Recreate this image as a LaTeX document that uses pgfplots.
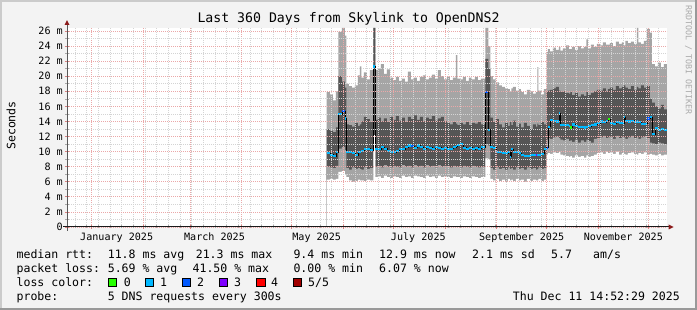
\documentclass[border=0pt]{standalone}
\usepackage{pgfplots}
\pgfplotsset{compat=1.18}
\usepackage{pgfplotstable}
\usepackage{fontspec}
\setmainfont{DejaVu Sans Mono}
\newcommand\lfont{\fontsize{11.55bp}{13bp}\selectfont}
\newcommand\afont{\fontsize{10.1bp}{12bp}\selectfont}
\newcommand\tfont{\fontsize{13.2bp}{15bp}\selectfont}
\newcommand\wfont{\fontsize{8.3bp}{10bp}\selectfont}
\definecolor{bg}{HTML}{F3F3F3}
\definecolor{shadeA}{HTML}{CBCBCB}
\definecolor{shadeB}{HTML}{999999}
\definecolor{mgrid}{HTML}{EBA8A8}
\definecolor{mgridt}{HTML}{D88080}
\definecolor{sgrid}{HTML}{D4D4D4}
\definecolor{lgray}{HTML}{A5A5A5}
\definecolor{dgray}{HTML}{555555}
\definecolor{l0}{HTML}{26FF00}
\definecolor{l1}{HTML}{00B8FF}
\definecolor{l2}{HTML}{0059FF}
\definecolor{l3}{HTML}{7E00FF}
\definecolor{l4}{HTML}{FF0000}
\definecolor{l5}{HTML}{A10000}
\definecolor{arrowc}{HTML}{8B1A1A}
\definecolor{wm}{HTML}{AAAAAA}

\pgfplotstableread{
x U1 U2 M L2 L1
141.00 17.9 13.0 9.8 8.0 6.3
142.98 17.6 12.8 9.6 7.9 6.4
144.78 16.8 12.6 9.4 7.8 6.3
146.58 18.0 13.2 9.9 8.1 6.4
148.08 25.9 20.0 15.0 10.4 7.3
150.18 26.4 19.3 15.4 10.6 7.4
151.98 25.4 18.5 14.4 10.2 7.0
152.88 19.0 13.6 10.0 7.8 6.6
154.38 18.7 13.5 9.9 7.6 6.2
156.18 18.5 13.3 9.8 7.9 6.0
157.98 18.8 13.8 9.5 7.7 6.1
159.78 20.1 13.4 9.9 7.8 6.3
160.98 21.3 13.6 10.0 7.7 6.2
161.88 19.8 14.0 10.1 7.6 6.2
163.38 20.5 14.6 10.3 7.9 6.1
165.18 19.6 14.3 10.4 7.7 6.3
166.98 20.8 13.9 10.2 7.8 6.2
169.08 26.4 26.4 21.3 12.2 12.2
170.28 20.8 14.2 10.4 8.0 6.6
171.78 21.0 14.5 10.3 8.1 6.7
173.58 21.6 14.0 10.6 7.9 6.5
175.38 20.3 14.4 10.4 8.2 6.8
177.18 20.9 13.9 10.1 8.0 6.6
178.98 19.8 14.6 10.0 7.9 6.5
180.78 19.5 14.2 9.9 8.1 6.7
182.58 19.9 14.7 10.1 8.0 6.6
184.38 19.4 14.1 10.4 7.9 6.5
186.18 19.7 14.5 10.3 8.2 6.8
187.98 19.3 13.9 10.6 8.0 6.6
189.78 20.6 14.6 10.8 8.1 6.7
191.58 19.6 14.3 10.7 7.9 6.5
193.38 19.8 14.8 10.5 8.2 6.8
195.18 19.4 14.2 10.8 8.0 6.7
196.98 19.9 14.6 10.6 8.1 6.6
198.78 20.1 14.0 10.4 7.9 6.5
200.58 19.6 14.5 10.6 8.2 6.8
202.38 19.8 14.3 10.5 8.0 6.6
204.18 20.2 14.7 10.4 8.1 6.7
205.98 19.7 14.1 10.6 7.9 6.5
207.78 20.8 14.4 10.5 8.2 6.8
209.58 20.0 14.6 10.4 8.0 6.6
211.38 19.6 14.0 10.5 8.1 6.7
213.18 19.9 13.8 10.4 8.0 6.6
214.98 19.5 13.6 10.4 7.9 6.5
216.78 19.8 13.9 10.6 8.1 6.7
218.58 22.8 13.7 10.7 8.0 6.6
219.48 19.7 13.5 10.9 8.0 6.6
220.98 19.6 13.8 11.0 7.9 6.5
222.78 19.9 13.6 10.5 8.1 6.7
224.58 19.4 13.9 10.4 8.0 6.6
226.38 19.8 13.5 10.5 7.9 6.5
228.18 19.6 13.8 10.3 8.1 6.7
229.98 19.9 13.7 10.5 8.0 6.6
231.78 19.5 13.9 10.4 7.9 6.5
233.58 19.7 13.6 10.6 8.0 6.6
236.28 26.4 22.3 17.9 11.0 9.1
238.08 24.0 21.0 12.9 10.8 9.0
239.28 20.0 14.5 10.6 7.8 6.4
240.78 19.6 13.9 10.5 7.6 6.2
242.58 19.2 14.3 10.0 7.9 6.4
244.38 18.8 13.6 9.9 7.7 6.1
246.18 18.6 13.2 9.8 7.8 6.3
247.98 18.4 13.8 9.8 7.6 6.0
249.78 18.3 13.4 9.9 7.9 6.4
250.98 18.0 13.9 9.3 7.7 6.2
251.88 18.4 13.5 10.3 7.8 6.3
252.78 18.6 14.1 9.9 7.6 6.1
254.58 18.1 13.3 9.9 7.9 6.4
256.38 18.3 13.7 9.8 7.7 6.2
257.58 17.9 13.2 9.5 7.8 6.3
259.38 17.6 13.8 9.4 7.6 6.0
261.18 18.2 13.4 9.4 7.9 6.4
262.98 18.0 13.0 9.5 7.7 6.1
264.78 17.7 13.6 9.6 7.8 6.3
266.58 17.9 13.3 9.6 7.6 6.2
267.48 21.2 13.7 9.6 7.7 6.2
268.08 18.1 13.5 9.6 7.9 6.4
269.58 17.6 13.9 9.7 7.7 6.1
271.38 18.3 13.6 10.3 7.8 6.3
273.00 23.2 17.9 10.5 11.6 9.6
273.78 23.6 18.1 13.3 11.8 9.8
274.98 23.3 18.2 14.2 11.7 9.7
276.78 23.8 18.4 14.1 11.9 9.9
278.58 23.5 18.6 14.0 12.0 9.8
280.38 23.9 18.1 15.1 11.8 10.0
281.28 23.4 17.9 13.5 11.6 9.6
282.78 23.7 18.0 13.5 11.5 9.5
284.58 24.1 17.8 13.5 11.7 9.4
286.38 23.6 17.7 13.4 11.4 9.3
287.28 23.6 17.9 13.2 11.5 9.4
288.18 23.9 17.5 13.6 11.3 9.2
289.98 23.5 17.8 13.4 11.6 9.5
291.78 24.0 17.3 13.3 11.2 9.3
293.58 23.7 17.6 13.3 11.5 9.4
295.38 23.9 17.4 13.2 11.3 9.2
296.88 24.9 17.9 13.3 11.6 9.5
297.78 23.7 17.5 13.4 11.4 9.3
299.58 24.2 17.8 13.5 11.2 9.4
301.38 23.9 18.0 13.6 11.7 9.6
303.18 24.3 18.2 13.8 11.8 9.8
304.98 24.1 18.1 14.0 11.9 9.9
306.78 24.5 18.4 13.9 12.1 9.7
308.58 24.2 18.0 14.1 11.8 10.0
309.78 24.2 18.3 14.3 11.9 9.8
310.98 24.4 18.5 13.8 12.0 9.9
312.78 24.0 18.2 13.7 11.7 9.7
314.58 24.6 18.7 13.9 12.1 10.0
316.38 24.3 18.4 13.8 11.8 9.6
318.18 24.5 18.6 13.8 12.0 9.8
319.38 24.1 18.8 14.6 11.9 9.7
320.28 24.7 18.5 14.1 11.7 9.6
321.78 24.4 18.3 14.0 11.9 9.8
323.58 24.6 18.7 14.1 12.1 9.9
325.38 24.3 18.2 13.9 11.8 9.7
327.18 26.4 18.6 14.0 12.0 9.6
328.08 24.5 18.4 13.9 11.7 9.8
329.58 24.3 18.8 13.7 11.9 9.7
331.38 24.7 18.5 13.7 12.0 9.9
333.18 26.3 18.7 14.4 11.8 9.6
334.98 25.8 17.0 14.6 11.2 9.7
336.18 21.6 16.5 12.3 11.1 9.6
337.98 21.3 16.0 13.1 11.0 9.5
339.78 21.8 15.7 12.9 11.2 9.7
341.58 21.2 16.2 13.0 11.1 9.5
343.38 21.6 15.6 12.9 11.0 9.6
345.18 21.6 15.6 12.9 11.0 9.6
}\smoke

\begin{document}
\begin{tikzpicture}
\begin{scope}[x=1bp,y=1bp]
\fill[bg] (0,0) rectangle (697,310);
\fill[shadeA] (0,308) rectangle (697,310);
\fill[shadeA] (0,0) rectangle (2,310);
\fill[shadeB] (695,0) rectangle (697,310);
\fill[shadeB] (0,0) rectangle (697,2);
\end{scope}

\begin{axis}[
  at={(67bp,83bp)}, anchor=south west,
  scale only axis, width=600bp, height=199bp,
  xmin=-14.8, xmax=345.2, ymin=0, ymax=26.4,
  axis background/.style={fill=white},
  axis on top,
  axis line style={draw=none},
  /pgf/number format/assume math mode=true,
  tick label style={font=\afont, inner sep=0pt},
  xtick={-31,0,31,59,90,120,151,181,212,243,273,304,334},
  xticklabels={},
  minor xtick={-10,-3,...,340},
  ytick={0,2,...,26},
  yticklabels={0,2 m,4 m,6 m,8 m,10 m,12 m,14 m,16 m,18 m,20 m,22 m,24 m,26 m},
  minor ytick={1,3,...,25},
  xtick pos=bottom, ytick pos=left,
  tick align=center,
  major tick length=4bp, minor tick length=3bp,
  major tick style={mgridt, line width=0.8bp},
  minor tick style={sgrid!80!black, line width=0.6bp},
  grid=both,
  major grid style={mgrid, line width=0.8bp, dash pattern=on 1bp off 1bp},
  minor grid style={sgrid, line width=0.8bp, dash pattern=on 1bp off 1bp},
  yticklabel style={anchor=east, xshift=-2bp},
  extra x ticks={15,73.7,135,196,258,319},
  extra x tick labels={January 2025,March 2025,May 2025,July 2025,September 2025,November 2025},
  extra x tick style={grid=none, major tick length=0pt, tick label style={anchor=north, yshift=-6bp}},
]
\addplot[fill=lgray, draw=none, const plot] table[x=x,y=U1]{\smoke} \closedcycle;
\addplot[fill=dgray, draw=none, const plot] table[x=x,y=U2]{\smoke} \closedcycle;
\addplot[fill=lgray, draw=none, const plot] table[x=x,y=L2]{\smoke} \closedcycle;
\addplot[fill=white, draw=none, const plot] table[x=x,y=L1]{\smoke} \closedcycle;
\addplot[black, line width=0.8bp, const plot] table[x=x,y=M]{\smoke};
\addplot[l1, line width=2.2bp, jump mark left] table[x=x,y=M]{\smoke};
\addplot[l2, line width=2.2bp, jump mark left] coordinates {(150.18,15.4) (151.98,15.4)};
\addplot[l2, line width=2.2bp, jump mark left] coordinates {(191.58,10.7) (193.38,10.7)};
\addplot[l2, line width=2.2bp, jump mark left] coordinates {(236.28,17.9) (238.08,17.9)};
\addplot[l2, line width=2.2bp, jump mark left] coordinates {(273.00,10.5) (273.78,10.5)};
\addplot[l2, line width=2.2bp, jump mark left] coordinates {(333.18,14.4) (334.98,14.4)};
\addplot[l3, line width=2.2bp, jump mark left] coordinates {(266.58,9.6) (267.48,9.6)};
\addplot[l0, line width=2.2bp, jump mark left] coordinates {(287.28,13.2) (288.18,13.2)};
\addplot[l0, line width=2.2bp, jump mark left] coordinates {(309.78,14.3) (310.98,14.3)};
\end{axis}

\begin{scope}[x=1bp,y=1bp]
% axis lines and arrows
\draw[line width=1bp, black!65] (67,79) -- (67,286);
\draw[line width=1bp, black!90] (63,83) -- (669,83);
\fill[arrowc] (64.5,285) -- (69.5,285) -- (67,289.8) -- cycle;
\fill[arrowc] (668.5,85.5) -- (668.5,80.5) -- (673.5,83) -- cycle;
% title
\node[font=\tfont, inner sep=0pt] at (348.5,290.7) {Last 360 Days from Skylink to OpenDNS2};
% y label
\node[font=\lfont, inner sep=0pt, rotate=90] at (11,184.5) {Seconds};
% watermark
\node[font=\wfont, text=wm, inner sep=0pt, rotate=-90] at (688.5,250) {RRDTOOL / TOBI OETIKER};
% legend
\begin{scope}[every node/.style={font=\lfont, inner sep=0pt, anchor=base west}]
\node at (16.4,51.5) {median rtt:};
\node at (107.6,51.5) {11.8 ms avg};
\node at (195.6,51.5) {21.3 ms max};
\node at (293.3,51.5) {9.4 ms min};
\node at (379,51.5) {12.9 ms now};
\node at (472,51.5) {2.1 ms sd};
\node at (551,51.5) {5.7};
\node at (593,51.5) {am/s};
\node at (16.4,37.5) {packet loss:};
\node at (107.6,37.5) {5.69 \% avg};
\node at (192.4,37.5) {41.50 \% max};
\node at (293.3,37.5) {0.00 \% min};
\node at (379,37.5) {6.07 \% now};
\node at (16.4,23.5) {loss color:};
\node at (123.6,23.5) {0};
\node at (160,23.5) {1};
\node at (197,23.5) {2};
\node at (234,23.5) {3};
\node at (271,23.5) {4};
\node at (308,23.5) {5/5};
\node at (16.4,9.8) {probe:};
\node at (107.6,9.8) {5 DNS requests every 300s};
\node[anchor=base east] at (680,9.8) {Thu Dec 11 14:52:29 2025};
\end{scope}
\filldraw[fill=l0, draw=black, line width=0.8bp] (108,23.3) rectangle (116.4,31.7);
\filldraw[fill=l1, draw=black, line width=0.8bp] (145.3,23.3) rectangle (153.8,31.7);
\filldraw[fill=l2, draw=black, line width=0.8bp] (182.2,23.3) rectangle (190.7,31.7);
\filldraw[fill=l3, draw=black, line width=0.8bp] (219.1,23.3) rectangle (227.6,31.7);
\filldraw[fill=l4, draw=black, line width=0.8bp] (256.4,23.3) rectangle (264.9,31.7);
\filldraw[fill=l5, draw=black, line width=0.8bp] (293.3,23.3) rectangle (301.8,31.7);
\end{scope}
\pgfresetboundingbox
\useasboundingbox (0,0) rectangle (697bp,310bp);
\end{tikzpicture}
\end{document}
